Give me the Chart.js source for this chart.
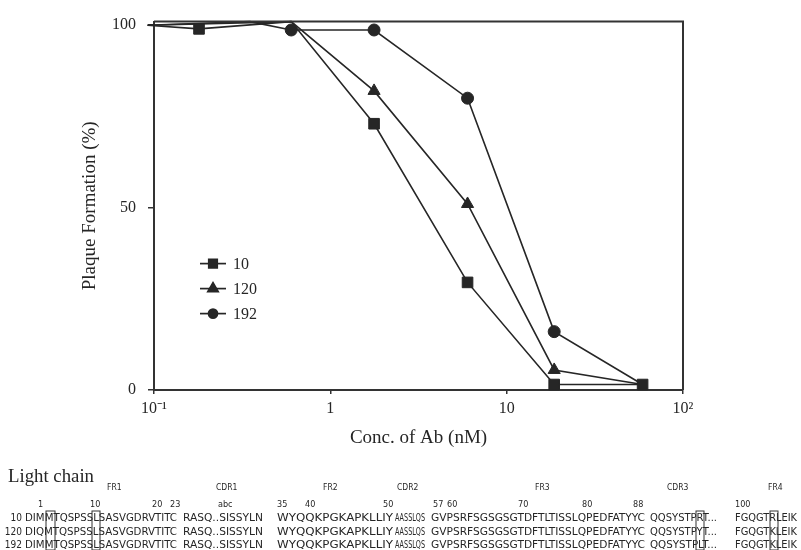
<!DOCTYPE html>
<html>
<head>
<meta charset="utf-8">
<script src="https://cdn.jsdelivr.net/npm/chart.js@4.4.1/dist/chart.umd.min.js"></script>
<style>
  html, body { margin: 0; padding: 0; background: #fff; }
  #wrap { position: relative; width: 801px; height: 550px; overflow: hidden; }
  #chart { position: absolute; left: 0; top: 0; }
  #seq { position: absolute; left: 0; top: 0; }
</style>
</head>
<body>
<div id="wrap">
  <canvas id="chart" width="801" height="550"></canvas>
  <svg id="seq" width="801" height="550"></svg>
</div>
<script>
// Plaque formation vs antibody concentration, three clones
const seriesNames = ['10', '120', '192'];
const conc10 = [0.092, 0.18, 0.6, 1.77, 6, 18.6, 59];
const plaque10 = [100, 99, 101, 73, 29.5, 1.5, 1.5];
const conc120 = [0.092, 0.6, 1.77, 6, 18.6, 59];
const plaque120 = [100, 101, 82, 51, 5.5, 1.5];
const conc192 = [0.092, 0.35, 0.6, 1.77, 6, 18.6, 59];
const plaque192 = [100, 101, 98.7, 98.7, 80, 16, 1.5];

const xTickValues = [0.1, 1, 10, 100];
const xTickLabels = ['10\u207B\u00B9', '1', '10', '10\u00B2'];
const yTickValues = [0, 50, 100];

// Light chain alignment below the plot
const seqLabels = ['10', '120', '192'];
const seqRows = [
  ['DIMMTQSPSSLSASVGDRVTITC', 'RASQ..SISSYLN', 'WYQQKPGKAPKLLIY', 'AASSLQS', 'GVPSRFSGSGSGTDFTLTISSLQPEDFATYYC', 'QQSYSTPRT...', 'FGQGTRLEIK'],
  ['DIQMTQSPSSLSASVGDRVTITC', 'RASQ..SISSYLN', 'WYQQKPGKAPKLLIY', 'AASSLQS', 'GVPSRFSGSGSGTDFTLTISSLQPEDFATYYC', 'QQSYSTPYT...', 'FGQGTKLEIK'],
  ['DIMMTQSPSSLSASVGDRVTITC', 'RASQ..SISSYLN', 'WYQQKPGKAPKLLIY', 'AASSLQS', 'GVPSRFSGSGSGTDFTLTISSLQPEDFATYYC', 'QQSYSTPLT...', 'FGQGTKLEIK']
];
const regionNames = ['FR1', 'CDR1', 'FR2', 'CDR2', 'FR3', 'CDR3', 'FR4'];
const positionNums = ['1', '10', '20', '23', 'abc', '35', '40', '50', '57', '60', '70', '80', '88', '100'];

const ink = '#262626';
const serif = "'Liberation Serif', 'Times New Roman', serif";

const toPts = (xs, ys) => xs.map((x, i) => ({ x: x, y: ys[i] }));

function lineSet(label, xs, ys, style, radii) {
  return {
    label: label,
    data: toPts(xs, ys),
    borderColor: ink,
    backgroundColor: ink,
    borderWidth: 1.6,
    pointStyle: style,
    pointRadius: ctx => radii[ctx.dataIndex],
    pointBorderWidth: 1,
    pointBorderColor: ink,
    pointBackgroundColor: ink,
    tension: 0,
    clip: false
  };
}

// frame on top and right + legend inside the plot
const framePlugin = {
  id: 'frame',
  afterDatasetsDraw(chart) {
    const { ctx, chartArea: a } = chart;
    ctx.save();
    ctx.strokeStyle = '#333';
    ctx.lineWidth = 2;
    ctx.beginPath();
    ctx.moveTo(a.left, a.top);
    ctx.lineTo(a.right, a.top);
    ctx.lineTo(a.right, a.bottom);
    ctx.stroke();

    const styles = ['rect', 'triangle', 'circle'];
    const sizes = [6, 6, 4.5];
    ctx.font = '16px ' + serif;
    ctx.textBaseline = 'middle';
    seriesNames.forEach((name, i) => {
      const y = a.top + 242 + i * 25;
      const x0 = a.left + 46;
      ctx.strokeStyle = ink;
      ctx.lineWidth = 1.7;
      ctx.beginPath();
      ctx.moveTo(x0, y);
      ctx.lineTo(x0 + 26, y);
      ctx.stroke();
      ctx.fillStyle = ink;
      Chart.helpers.drawPoint(ctx, { pointStyle: styles[i], radius: sizes[i], rotation: 0, borderWidth: 1 }, x0 + 13, y);
      ctx.fill();
      ctx.fillText(name, x0 + 33, y + 1);
    });
    ctx.restore();
  }
};

new Chart(document.getElementById('chart'), {
  type: 'line',
  data: {
    datasets: [
      lineSet(seriesNames[0], conc10, plaque10, 'rect', [2.5, 7.5, 0, 7.5, 7.5, 7.5, 7.5]),
      lineSet(seriesNames[1], conc120, plaque120, 'triangle', [2.5, 0, 7, 7, 7, 0]),
      lineSet(seriesNames[2], conc192, plaque192, 'circle', [2.5, 0, 6, 6, 6, 6, 0])
    ]
  },
  options: {
    responsive: false,
    animation: false,
    layout: { padding: { left: 0, top: 14, right: 118, bottom: 0 } },
    plugins: { legend: { display: false }, tooltip: { enabled: false } },
    scales: {
      x: {
        type: 'logarithmic',
        min: 0.1,
        max: 100,
        afterBuildTicks: s => { s.ticks = xTickValues.map(v => ({ value: v })); },
        afterFit: s => { s.height = 160; },
        ticks: {
          autoSkip: false,
          maxRotation: 0,
          padding: 5,
          color: ink,
          font: { family: serif, size: 16 },
          callback: (v, i) => xTickLabels[i]
        },
        grid: { drawOnChartArea: false, drawTicks: true, tickLength: 4, color: '#333', lineWidth: 1.5 },
        border: { display: true, color: '#333', width: 2 },
        title: {
          display: true,
          text: 'Conc. of Ab (nM)',
          color: ink,
          font: { family: serif, size: 19 },
          padding: { top: 0, bottom: 101 }
        }
      },
      y: {
        min: 0,
        max: 101,
        afterBuildTicks: s => { s.ticks = yTickValues.map(v => ({ value: v })); },
        afterFit: s => { s.width = 154; },
        ticks: {
          padding: 12,
          color: ink,
          font: { family: serif, size: 16 }
        },
        grid: { drawOnChartArea: false, drawTicks: true, tickLength: 6, color: '#333', lineWidth: 1.5 },
        border: { display: true, color: '#333', width: 2 },
        title: {
          display: true,
          text: 'Plaque Formation (%)',
          color: ink,
          font: { family: serif, size: 19 },
          padding: { top: 79, bottom: 0 }
        }
      }
    }
  },
  plugins: [framePlugin]
});

// sequence alignment as svg text
const svg = document.getElementById('seq');
const NS = 'http://www.w3.org/2000/svg';
function addText(str, x, y, opts) {
  const t = document.createElementNS(NS, 'text');
  t.textContent = str;
  t.setAttribute('x', x);
  t.setAttribute('y', y);
  t.setAttribute('fill', opts.fill || ink);
  t.setAttribute('font-family', opts.family || "'Liberation Sans Narrow', 'DejaVu Sans Condensed', sans-serif");
  t.setAttribute('font-size', opts.size || 10);
  if (opts.anchor) t.setAttribute('text-anchor', opts.anchor);
  if (opts.len) {
    t.setAttribute('textLength', opts.len);
    t.setAttribute('lengthAdjust', 'spacingAndGlyphs');
  }
  svg.appendChild(t);
}

addText('Light chain', 8, 482, { family: serif, size: 18, len: 86 });

const regionX = [107, 216, 323, 397, 535, 667, 768];
regionNames.forEach((r, i) => addText(r, regionX[i], 490, { size: 8.5 }));

const numX = [38, 90, 152, 170, 218, 277, 305, 383, 433, 447, 518, 582, 633, 735];
positionNums.forEach((n, i) => addText(n, numX[i], 507, { size: 9 }));

const segX = [25, 183, 277, 395, 431, 650, 735];
const segW = [152, 80, 116, 30, 214, 67, 62];
const rowY = [521, 535, 548];
seqRows.forEach((row, r) => {
  addText(seqLabels[r], 22, rowY[r], { size: 10, anchor: 'end' });
  row.forEach((seg, i) => addText(seg, segX[i], rowY[r], { size: 11, len: segW[i] }));
});

// boxed columns
[[46, 9], [92, 8], [696, 8], [770, 8]].forEach(b => {
  const rc = document.createElementNS(NS, 'rect');
  rc.setAttribute('x', b[0]);
  rc.setAttribute('y', 511);
  rc.setAttribute('width', b[1]);
  rc.setAttribute('height', 39);
  rc.setAttribute('fill', 'none');
  rc.setAttribute('stroke', '#333');
  rc.setAttribute('stroke-width', 1);
  svg.appendChild(rc);
});
</script>
</body>
</html>
